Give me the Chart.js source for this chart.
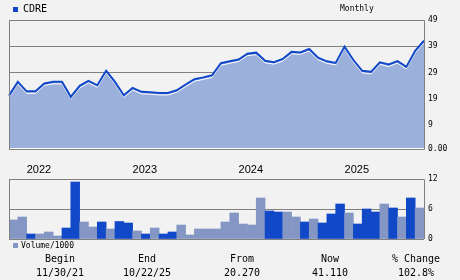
<!DOCTYPE html>
<html>
<head>
<meta charset="utf-8">
<script src="https://cdn.jsdelivr.net/npm/chart.js@4/dist/chart.umd.min.js"></script>
<style>
  body { margin: 0; width: 460px; height: 280px; overflow: hidden; position: relative; background: #f2f2f2; font-family: 'DejaVu Sans Mono', monospace; color: #000; }
  #priceWrap { position: absolute; left: 0; top: 0; width: 460px; height: 180px; }
  #volWrap { position: absolute; left: 0; top: 170px; width: 460px; height: 80px; }
  .txt { position: absolute; white-space: nowrap; line-height: 12px; }
  .sw { position: absolute; width: 5px; height: 5px; }
  .col { position: absolute; width: 100px; text-align: center; font-size: 10px; line-height: 12px; }
</style>
</head>
<body>
<div id="priceWrap"><canvas id="priceChart" width="460" height="180"></canvas></div>
<div id="volWrap"><canvas id="volChart" width="460" height="80"></canvas></div>

<div class="sw" style="left:13px;top:7px;background:#1048c8"></div>
<div class="txt" style="left:23px;top:3px;font-size:10px">CDRE</div>
<div class="txt" style="left:340px;top:3px;font-size:8px">Monthly</div>

<div class="sw" style="left:13px;top:243px;background:#8497c4"></div>
<div class="txt" style="left:21px;top:240px;font-size:8px">Volume/1000</div>

<div id="table"></div>

<script>
const months = [
  'Nov 21', 'Dec 21',
  'Jan 22', 'Feb 22', 'Mar 22', 'Apr 22', 'May 22', 'Jun 22', 'Jul 22', 'Aug 22', 'Sep 22', 'Oct 22', 'Nov 22', 'Dec 22',
  'Jan 23', 'Feb 23', 'Mar 23', 'Apr 23', 'May 23', 'Jun 23', 'Jul 23', 'Aug 23', 'Sep 23', 'Oct 23', 'Nov 23', 'Dec 23',
  'Jan 24', 'Feb 24', 'Mar 24', 'Apr 24', 'May 24', 'Jun 24', 'Jul 24', 'Aug 24', 'Sep 24', 'Oct 24', 'Nov 24', 'Dec 24',
  'Jan 25', 'Feb 25', 'Mar 25', 'Apr 25', 'May 25', 'Jun 25', 'Jul 25', 'Aug 25', 'Sep 25', 'Oct 25'
];

const closes = [
  20.27, 25.5,
  21.9, 21.9, 24.9, 25.5, 25.5, 19.8, 24.0, 25.9, 24.2, 29.7, 25.5, 20.4,
  23.2, 21.7, 21.6, 21.3, 21.3, 22.3, 24.5, 26.5, 27.2, 28.0, 32.6, 33.3,
  34.0, 36.2, 36.6, 33.5, 33.0, 34.2, 36.9, 36.7, 38.0, 34.7, 33.3, 32.7,
  38.9, 33.8, 29.7, 29.3, 32.9, 32.1, 33.4, 31.2, 37.3, 41.11
];

// volume in thousands, one bar per month from Dec 21
const volumes = [
  3.8,
  4.4, 1.0, 1.0, 1.4, 0.6, 2.2, 11.4, 3.4, 2.4, 3.4, 2.0, 3.5,
  3.2, 1.6, 1.0, 2.2, 1.0, 1.4, 2.8, 0.8, 2.0, 2.0, 2.0, 3.4,
  5.2, 3.0, 2.8, 8.2, 5.6, 5.4, 5.4, 4.4, 3.4, 4.0, 3.2, 5.0,
  7.0, 5.2, 3.0, 6.0, 5.4, 7.0, 6.2, 4.4, 8.2, 6.2
];
// 1 = dark bar, 0 = light bar
const volumeDark = [
  0,
  0, 1, 0, 0, 0, 1, 1, 0, 0, 1, 0, 1,
  1, 0, 1, 0, 1, 1, 0, 0, 0, 0, 0, 0,
  0, 0, 0, 0, 1, 1, 0, 0, 1, 0, 1, 1,
  1, 0, 1, 1, 1, 0, 1, 0, 1, 0
];

const priceTicks = [0, 9, 19, 29, 39, 49];
const volumeTicks = [0, 6, 12];

const summaryHeads = ['Begin', 'End', 'From', 'Now', '% Change'];
const summaryValues = ['11/30/21', '10/22/25', '20.270', '41.110', '102.8%'];

const darkBlue = '#1048c8';
const lightBar = '#8497c4';
const areaFill = '#9cb0dc';
const gridGray = '#808080';

// box around the plot area
const frame = {
  id: 'frame',
  afterDatasetsDraw(chart, args, opts) {
    const { ctx, chartArea } = chart;
    const l = Math.round(chartArea.left) + 0.5;
    const r = Math.round(chartArea.right) + 0.5;
    const t = Math.round(chartArea.top) + 0.5;
    const b = Math.round(chartArea.bottom) + 0.5;
    ctx.save();
    ctx.lineWidth = 1;
    if (opts.bottom) {
      ctx.strokeStyle = '#ffffff';
      ctx.beginPath();
      ctx.moveTo(l, b - 1);
      ctx.lineTo(r, b - 1);
      ctx.stroke();
    }
    ctx.strokeStyle = gridGray;
    ctx.beginPath();
    ctx.moveTo(l, opts.bottom ? b : chartArea.bottom);
    ctx.lineTo(l, t);
    ctx.lineTo(r, t);
    ctx.lineTo(r, opts.bottom ? b : chartArea.bottom);
    if (opts.bottom) ctx.lineTo(l, b);
    ctx.stroke();
    ctx.restore();
  }
};

// white shadow line just under the price line
const shadow = {
  id: 'shadow',
  beforeDatasetDraw(chart, args) {
    if (args.index === 1) {
      chart.ctx.save();
      chart.ctx.translate(0, 2);
    }
  },
  afterDatasetDraw(chart, args) {
    if (args.index === 1) chart.ctx.restore();
  }
};

new Chart(document.getElementById('priceChart'), {
  type: 'line',
  data: {
    labels: months,
    datasets: [
      { data: closes, borderColor: darkBlue, borderWidth: 2, pointRadius: 0, tension: 0, fill: false },
      { data: closes, borderColor: '#ffffff', borderWidth: 1, pointRadius: 0, tension: 0, fill: false },
      { data: closes, borderWidth: 0, backgroundColor: areaFill, pointRadius: 0, tension: 0, fill: 'origin' }
    ]
  },
  options: {
    responsive: false,
    animation: false,
    layout: { padding: { left: 9, top: 20, right: 0, bottom: 0 } },
    plugins: {
      legend: { display: false },
      tooltip: { enabled: false },
      frame: { bottom: true }
    },
    scales: {
      x: {
        offset: false,
        grid: { display: false, drawTicks: false },
        border: { display: false },
        afterFit: s => { s.height = 31; s.paddingLeft = 0; s.paddingRight = 0; },
        ticks: {
          autoSkip: false,
          maxRotation: 0,
          align: 'start',
          padding: 14,
          color: '#000',
          font: { family: 'Liberation Sans', size: 11 },
          callback: (v, i) => months[i].startsWith('Jan') ? '20' + months[i].slice(4) : ''
        }
      },
      y: {
        position: 'right',
        min: 0,
        max: 49,
        afterBuildTicks: s => { s.ticks = priceTicks.map(v => ({ value: v })); },
        afterFit: s => { s.width = 36; s.paddingTop = 0; s.paddingBottom = 0; },
        grid: { color: gridGray, drawTicks: false },
        border: { display: false },
        ticks: {
          padding: 4,
          color: '#000',
          font: { family: 'DejaVu Sans Mono', size: 8 },
          callback: v => v === 0 ? '0.00' : String(v)
        }
      }
    }
  },
  plugins: [frame, shadow]
});

new Chart(document.getElementById('volChart'), {
  type: 'bar',
  data: {
    labels: months.slice(1),
    datasets: [{
      data: volumes,
      backgroundColor: volumeDark.map(d => d ? darkBlue : lightBar),
      borderWidth: 0,
      categoryPercentage: 1,
      barPercentage: 1
    }]
  },
  options: {
    responsive: false,
    animation: false,
    layout: { padding: { left: 9, top: 9, right: 0, bottom: 11 } },
    plugins: {
      legend: { display: false },
      tooltip: { enabled: false },
      frame: { bottom: false }
    },
    scales: {
      x: { display: false, offset: true },
      y: {
        position: 'right',
        min: 0,
        max: 12,
        afterBuildTicks: s => { s.ticks = volumeTicks.map(v => ({ value: v })); },
        afterFit: s => { s.width = 36; s.paddingTop = 0; s.paddingBottom = 0; },
        grid: { color: gridGray, drawTicks: false },
        border: { display: false },
        ticks: {
          padding: 4,
          color: '#000',
          font: { family: 'DejaVu Sans Mono', size: 8 }
        }
      }
    }
  },
  plugins: [frame]
});

// summary table under the charts
const colCenters = [60, 147, 242, 330, 416];
const table = document.getElementById('table');
summaryHeads.forEach((h, i) => {
  const head = document.createElement('div');
  head.className = 'col';
  head.style.left = (colCenters[i] - 50) + 'px';
  head.style.top = '253px';
  head.textContent = h;
  table.appendChild(head);

  const val = document.createElement('div');
  val.className = 'col';
  val.style.left = (colCenters[i] - 50) + 'px';
  val.style.top = '267px';
  val.textContent = summaryValues[i];
  table.appendChild(val);
});
</script>
</body>
</html>
